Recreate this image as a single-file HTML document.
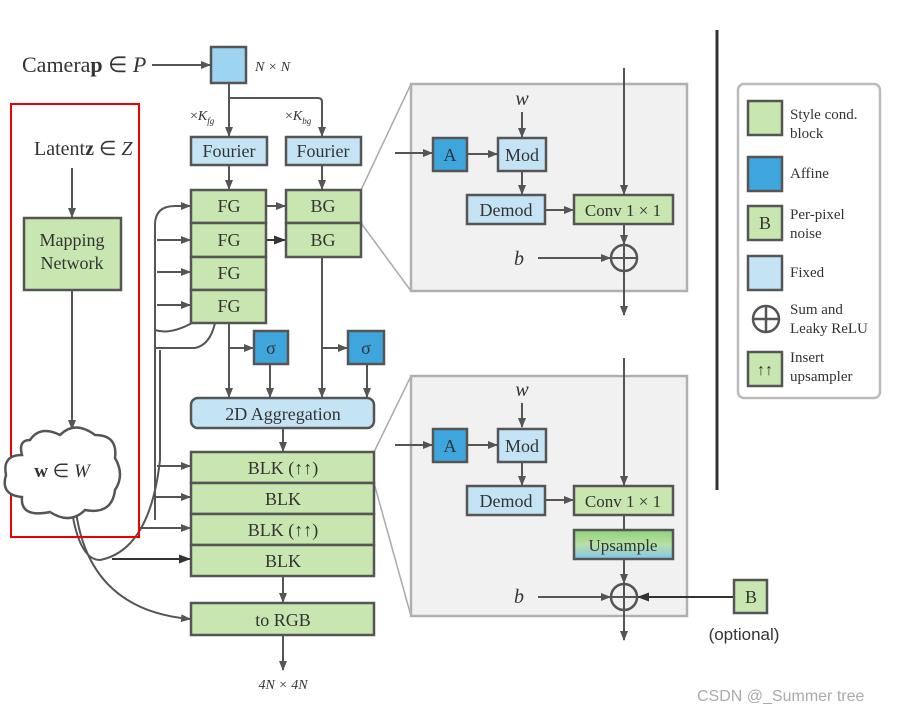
<!DOCTYPE html>
<html><head><meta charset="utf-8"><style>
html,body{margin:0;padding:0;background:#fff;}
svg{display:block;}
text{font-family:"Liberation Serif",serif;fill:#333;}
</style></head><body>
<svg width="906" height="712" viewBox="0 0 906 712" xmlns="http://www.w3.org/2000/svg">
<defs>
<marker id="ah" markerWidth="10" markerHeight="8" refX="9" refY="4" orient="auto" markerUnits="userSpaceOnUse">
<path d="M0,0 L10,4 L0,8 Z" fill="#555"/></marker>
<marker id="ahd" markerWidth="12" markerHeight="9" refX="11" refY="4.5" orient="auto" markerUnits="userSpaceOnUse">
<path d="M0,0 L12,4.5 L0,9 Z" fill="#333"/></marker>
<linearGradient id="ug" x1="0" y1="0" x2="0" y2="1">
<stop offset="0" stop-color="#8ed27a"/><stop offset="0.5" stop-color="#b9e0a5"/><stop offset="1" stop-color="#80c6ec"/></linearGradient>
</defs>
<g stroke="#555" stroke-width="2" fill="none">
<line x1="152" y1="65" x2="210" y2="65" marker-end="url(#ah)"/>
<line x1="229" y1="84" x2="229" y2="136" marker-end="url(#ah)"/>
<path d="M229,98 L318,98 Q322,98 322,102 L322,136" marker-end="url(#ah)"/>
<line x1="229" y1="165" x2="229" y2="189" marker-end="url(#ah)"/>
<line x1="322" y1="165" x2="322" y2="189" marker-end="url(#ah)"/>
<line x1="72" y1="168" x2="72" y2="217" marker-end="url(#ah)"/>
<line x1="72" y1="290" x2="72" y2="429" marker-end="url(#ah)"/>
<path d="M155,520 L155,225 Q155,206 175,206 L190,206" marker-end="url(#ah)"/>
<line x1="157" y1="240" x2="190" y2="240" marker-end="url(#ah)"/>
<line x1="157" y1="272" x2="190" y2="272" marker-end="url(#ah)"/>
<line x1="157" y1="305" x2="190" y2="305" marker-end="url(#ah)"/>
<path d="M155,330 Q170,335 192,323"/>
<path d="M155,348 L195,348 Q210,345 215,323"/>
<line x1="157" y1="466" x2="190" y2="466" marker-end="url(#ah)"/>
<line x1="153" y1="497" x2="190" y2="497" marker-end="url(#ah)"/>
<line x1="140" y1="528" x2="190" y2="528" marker-end="url(#ah)"/>
<path d="M72,512 Q80,560 100,560 Q150,550 160,460 L160,350"/>
<line x1="112" y1="559" x2="190" y2="559" stroke="#333" marker-end="url(#ahd)"/>
<path d="M76,512 Q90,610 190,619" marker-end="url(#ah)"/>
<line x1="266" y1="206" x2="285" y2="206" marker-end="url(#ah)"/>
<line x1="266" y1="240" x2="285" y2="240" stroke="#333" marker-end="url(#ahd)"/>
<line x1="229" y1="323" x2="229" y2="397" marker-end="url(#ah)"/>
<line x1="229" y1="348" x2="253" y2="348" marker-end="url(#ah)"/>
<line x1="270" y1="364" x2="270" y2="397" marker-end="url(#ah)"/>
<line x1="322" y1="257" x2="322" y2="397" marker-end="url(#ah)"/>
<line x1="322" y1="348" x2="347" y2="348" marker-end="url(#ah)"/>
<line x1="367" y1="364" x2="367" y2="397" marker-end="url(#ah)"/>
<line x1="283" y1="428" x2="283" y2="451" marker-end="url(#ah)"/>
<line x1="283" y1="576" x2="283" y2="602" marker-end="url(#ah)"/>
<line x1="283" y1="635" x2="283" y2="670" marker-end="url(#ah)"/>
</g>
<g stroke="#aaa" stroke-width="1.5">
<line x1="361" y1="190" x2="411" y2="84"/><line x1="361" y1="223" x2="411" y2="291"/>
<line x1="374" y1="452" x2="411" y2="376"/><line x1="374" y1="483" x2="411" y2="616"/>
</g>
<rect x="11" y="104" width="128" height="433" fill="none" stroke="#e00" stroke-width="2"/>
<g stroke="#555" stroke-width="2.5">
<rect x="211" y="47" width="35" height="36" fill="#9dd4f2"/>
<rect x="191" y="137" width="76" height="28" fill="#c4e4f5"/>
<rect x="286" y="137" width="75" height="28" fill="#c4e4f5"/>
<rect x="191" y="190" width="75" height="33" fill="#c8e6b0"/>
<rect x="191" y="223" width="75" height="34" fill="#c8e6b0"/>
<rect x="191" y="257" width="75" height="33" fill="#c8e6b0"/>
<rect x="191" y="290" width="75" height="33" fill="#c8e6b0"/>
<rect x="286" y="190" width="75" height="33" fill="#c8e6b0"/>
<rect x="286" y="223" width="75" height="34" fill="#c8e6b0"/>
<rect x="24" y="218" width="97" height="72" fill="#c8e6b0"/>
<rect x="254" y="331" width="34" height="33" fill="#3ea6dc"/>
<rect x="348" y="331" width="36" height="33" fill="#3ea6dc"/>
<rect x="191" y="398" width="183" height="30" rx="7" fill="#c4e4f5"/>
<rect x="191" y="452" width="183" height="31" fill="#c8e6b0"/>
<rect x="191" y="483" width="183" height="31" fill="#c8e6b0"/>
<rect x="191" y="514" width="183" height="31" fill="#c8e6b0"/>
<rect x="191" y="545" width="183" height="31" fill="#c8e6b0"/>
<rect x="191" y="603" width="183" height="32" fill="#c8e6b0"/>
</g>
<path d="M30,440 Q40,425 60,435 Q75,420 95,435 Q118,435 115,458 Q125,475 115,490 Q112,515 85,510 Q70,525 50,512 Q20,518 22,497 Q0,495 6,475 Q2,455 22,455 Q18,440 30,440 Z" fill="#fff" stroke="#555" stroke-width="2.5"/>
<rect x="411" y="84" width="276" height="207" fill="#f1f1f1" stroke="#b0b0b0" stroke-width="2.5"/>
<rect x="411" y="376" width="276" height="240" fill="#f1f1f1" stroke="#b0b0b0" stroke-width="2.5"/>
<g stroke="#555" stroke-width="2" fill="none">
<line x1="395" y1="153" x2="432" y2="153" marker-end="url(#ah)"/>
<line x1="467" y1="154" x2="497" y2="154" marker-end="url(#ah)"/>
<line x1="522" y1="112" x2="522" y2="137" marker-end="url(#ah)"/>
<line x1="522" y1="171" x2="522" y2="194" marker-end="url(#ah)"/>
<line x1="545" y1="210" x2="573" y2="210" marker-end="url(#ah)"/>
<line x1="624" y1="68" x2="624" y2="194" marker-end="url(#ah)"/>
<line x1="624" y1="224" x2="624" y2="244" marker-end="url(#ah)"/>
<line x1="538" y1="258" x2="610" y2="258" marker-end="url(#ah)"/>
<line x1="624" y1="271" x2="624" y2="315" marker-end="url(#ah)"/>
<line x1="395" y1="445" x2="432" y2="445" marker-end="url(#ah)"/>
<line x1="467" y1="445" x2="497" y2="445" marker-end="url(#ah)"/>
<line x1="522" y1="403" x2="522" y2="427" marker-end="url(#ah)"/>
<line x1="522" y1="462" x2="522" y2="485" marker-end="url(#ah)"/>
<line x1="545" y1="500" x2="573" y2="500" marker-end="url(#ah)"/>
<line x1="624" y1="358" x2="624" y2="485" marker-end="url(#ah)"/>
<line x1="624" y1="515" x2="624" y2="530"/>
<line x1="624" y1="559" x2="624" y2="583" marker-end="url(#ah)"/>
<line x1="538" y1="597" x2="610" y2="597" marker-end="url(#ah)"/>
<line x1="734" y1="597" x2="638" y2="597" stroke="#333" marker-end="url(#ahd)"/>
<line x1="624" y1="610" x2="624" y2="640" marker-end="url(#ah)"/>
<circle cx="624" cy="258" r="13" stroke-width="2.5"/><line x1="611" y1="258" x2="637" y2="258"/><line x1="624" y1="245" x2="624" y2="271"/>
<circle cx="624" cy="597" r="13" stroke-width="2.5"/><line x1="611" y1="597" x2="637" y2="597"/><line x1="624" y1="584" x2="624" y2="610"/>
</g>
<g stroke="#555" stroke-width="2.5">
<rect x="433" y="138" width="34" height="33" fill="#3ea6dc"/>
<rect x="498" y="138" width="48" height="33" fill="#c4e4f5"/>
<rect x="467" y="195" width="78" height="29" fill="#c4e4f5"/>
<rect x="574" y="195" width="99" height="29" fill="#c8e6b0"/>
<rect x="433" y="429" width="34" height="33" fill="#3ea6dc"/>
<rect x="498" y="429" width="48" height="33" fill="#c4e4f5"/>
<rect x="467" y="486" width="78" height="29" fill="#c4e4f5"/>
<rect x="574" y="486" width="99" height="29" fill="#c8e6b0"/>
<rect x="574" y="530" width="99" height="29" fill="url(#ug)"/>
<rect x="734" y="580" width="33" height="33" fill="#c8e6b0"/>
</g>
<line x1="717" y1="30" x2="717" y2="490" stroke="#333" stroke-width="3"/>
<rect x="738" y="84" width="142" height="314" rx="6" fill="#fff" stroke="#bbb" stroke-width="2.5"/>
<g stroke="#555" stroke-width="2.5">
<rect x="748" y="101" width="34" height="34" fill="#c8e6b0"/>
<rect x="748" y="157" width="34" height="34" fill="#3ea6dc"/>
<rect x="748" y="206" width="34" height="34" fill="#c8e6b0"/>
<rect x="748" y="256" width="34" height="34" fill="#c4e4f5"/>
<rect x="748" y="352" width="34" height="34" fill="#c8e6b0"/>
<circle cx="766" cy="319" r="13" fill="none"/><line x1="753" y1="319" x2="779" y2="319"/><line x1="766" y1="306" x2="766" y2="332"/>
</g>
<g font-size="15">
<text x="790" y="119">Style cond.</text><text x="790" y="138">block</text>
<text x="790" y="178">Affine</text>
<text x="790" y="219">Per-pixel</text><text x="790" y="238">noise</text>
<text x="790" y="277">Fixed</text>
<text x="790" y="314">Sum and</text><text x="790" y="333">Leaky ReLU</text>
<text x="790" y="362">Insert</text><text x="790" y="381">upsampler</text>
<text x="765" y="229" font-size="18" text-anchor="middle">B</text>
<text x="765" y="375" font-size="16" text-anchor="middle">↑↑</text>
</g>
<text x="22" y="72" font-size="22">Camera<tspan font-weight="bold">p</tspan> ∈ <tspan font-style="italic">P</tspan></text>
<text x="255" y="71" font-size="14" font-style="italic">N × N</text>
<text x="190" y="120" font-size="14">×<tspan font-style="italic">K</tspan><tspan font-size="9" font-style="italic" dy="4">fg</tspan></text>
<text x="285" y="120" font-size="14">×<tspan font-style="italic">K</tspan><tspan font-size="9" font-style="italic" dy="4">bg</tspan></text>
<text x="34" y="155" font-size="20">Latent<tspan font-weight="bold">z</tspan> ∈ <tspan font-style="italic">Z</tspan></text>
<g font-size="18" text-anchor="middle">
<text x="229" y="157">Fourier</text><text x="323" y="157">Fourier</text>
<text x="229" y="212">FG</text><text x="229" y="246">FG</text><text x="229" y="279">FG</text><text x="229" y="312">FG</text>
<text x="323" y="212">BG</text><text x="323" y="246">BG</text>
<text x="72" y="246">Mapping</text><text x="72" y="269">Network</text>
<text x="271" y="354">σ</text><text x="366" y="354">σ</text>
<text x="283" y="420">2D Aggregation</text>
<text x="283" y="474">BLK (↑↑)</text><text x="283" y="505">BLK</text><text x="283" y="536">BLK (↑↑)</text><text x="283" y="567">BLK</text>
<text x="283" y="626">to RGB</text>
<text x="62" y="477" font-size="19"><tspan font-weight="bold">w</tspan> ∈ <tspan font-style="italic">W</tspan></text>
<text x="450" y="161">A</text><text x="522" y="161">Mod</text><text x="506" y="216">Demod</text>
<text x="623" y="216" font-size="17">Conv 1 × 1</text>
<text x="450" y="452">A</text><text x="522" y="452">Mod</text><text x="506" y="507">Demod</text>
<text x="623" y="507" font-size="17">Conv 1 × 1</text>
<text x="623" y="551" font-size="17">Upsample</text>
<text x="751" y="603">B</text>
<text x="522" y="105" font-size="20" font-style="italic">w</text>
<text x="522" y="396" font-size="20" font-style="italic">w</text>
<text x="519" y="265" font-size="20" font-style="italic">b</text>
<text x="519" y="603" font-size="20" font-style="italic">b</text>
<text x="283" y="689" font-size="14" font-style="italic">4N × 4N</text>
</g>
<text x="744" y="640" font-size="17" text-anchor="middle" style="font-family:'Liberation Sans',sans-serif">(optional)</text>
<text x="697" y="701" font-size="16" style="font-family:'Liberation Sans',sans-serif;fill:#aaa">CSDN @_Summer tree</text>
</svg>
</body></html>
